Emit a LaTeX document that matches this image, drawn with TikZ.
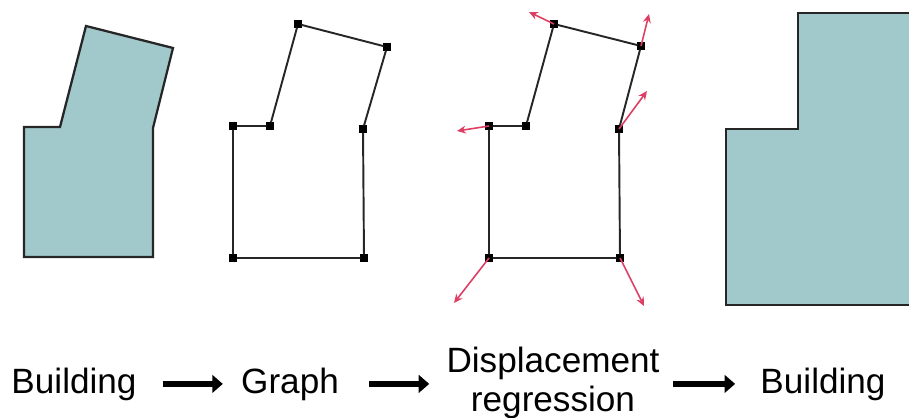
\documentclass[tikz,border=0pt]{standalone}
\usepackage{fontspec}
\setmainfont{Liberation Sans}
\usetikzlibrary{arrows.meta,positioning}
\definecolor{roof}{RGB}{161,201,203}
\definecolor{moved}{RGB}{222,62,98}

\begin{document}
\begin{tikzpicture}[x=0.02cm,y=-0.02cm,
  every node/.style={font=\fontsize{20}{22}\selectfont,inner sep=0pt},
  house/.style={draw=black!85,line width=1.3pt,fill=roof,line join=miter},
  vtx/.style={draw,fill=black,rectangle,minimum size=3.6pt,inner sep=0pt},
  edge/.style={line width=1.1pt,black!85},
  push/.style={-{Stealth[length=5pt,width=4.5pt]},draw=moved,line width=0.9pt},
  bigarrow/.style={-{Triangle[length=6pt,width=10pt]},line width=3.8pt}]
\useasboundingbox (0,0) rectangle (909,418);
% input building
\draw[house] (86,26)--(173,48)--(153,128)--(153,257)--(24,257)--(24,127)--(60,127)--cycle;
% graph
\node[vtx] (g1) at (298,24) {};
\node[vtx] (g2) at (387,47) {};
\node[vtx] (g3) at (363,129) {};
\node[vtx] (g4) at (364,258) {};
\node[vtx] (g5) at (233,258) {};
\node[vtx] (g6) at (233,126) {};
\node[vtx] (g7) at (270,126) {};
\draw[edge] (g1)--(g2)--(g3)--(g4)--(g5)--(g6)--(g7)--(g1);
% graph with displacements
\node[vtx] (d1) at (554,24) {};
\node[vtx] (d2) at (641,46) {};
\node[vtx] (d3) at (619,129) {};
\node[vtx] (d4) at (620,258) {};
\node[vtx] (d5) at (489,258) {};
\node[vtx] (d6) at (489,126) {};
\node[vtx] (d7) at (526,126) {};
\draw[edge] (d1)--(d2)--(d3)--(d4)--(d5)--(d6)--(d7)--(d1);
\coordinate (e1) at (529,12);
\coordinate (e2) at (649,14);
\coordinate (e3) at (647,91);
\coordinate (e4) at (644,306);
\coordinate (e5) at (454,303);
\coordinate (e6) at (457,131);
\foreach \i in {1,...,6} \draw[push] (d\i.center) -- (e\i);
% output building
\draw[house] (726,129)--(798,129)--(798,13)--(915,13)--(915,305)--(726,305)--cycle;
% labels
\node[anchor=base] (b1) at (74,393) {Building};
\node[anchor=base] (gr) at (290,393) {Graph};
\node[anchor=base,align=center] (dr) at (553,411) {Displacement\\regression};
\node[anchor=base] (b2) at (823,393) {Building};
\draw[bigarrow,shorten <=0.52cm,shorten >=0.36cm] (b1) -- (gr);
\draw[bigarrow,shorten <=0.6cm,shorten >=0.34cm] (gr) -- (gr -| dr.west);
\draw[bigarrow,shorten <=0.26cm,shorten >=0.5cm] (b2 -| dr.east) -- (b2);
\end{tikzpicture}
\end{document}
